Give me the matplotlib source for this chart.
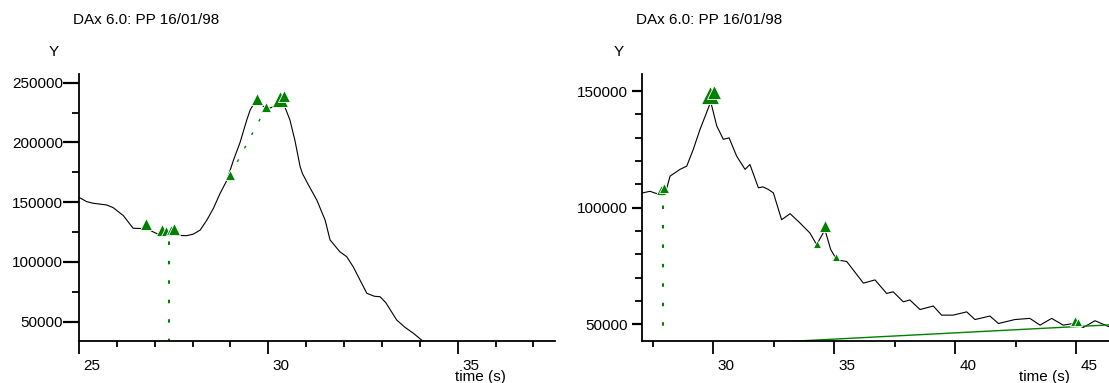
import numpy as np
import matplotlib
import matplotlib.pyplot as plt
from matplotlib.ticker import MultipleLocator, FuncFormatter
from matplotlib.transforms import ScaledTranslation

matplotlib.rcParams['font.family'] = ['Liberation Sans', 'DejaVu Sans']
matplotlib.rcParams['lines.scale_dashes'] = False

GREEN = '#008000'
TITLE = 'DAx 6.0: PP 16/01/98'

# ---- left trace (time s, Y) ----
t_left = [25.0, 25.2, 25.38, 25.73, 25.9, 26.17, 26.43, 26.79, 27.0, 27.14, 27.5, 27.84,
          28.02, 28.2, 28.37, 28.55, 28.72, 28.9, 29.08, 29.25, 29.43, 29.52, 29.6, 29.74,
          29.82, 29.96, 30.09, 30.31, 30.44, 30.57, 30.7, 30.84, 30.9, 31.05, 31.28, 31.5,
          31.63, 31.89, 32.07, 32.24, 32.6, 32.8, 32.95, 33.1, 33.39, 33.6, 33.83, 34.08]
y_left = [154100, 150500, 149100, 147700, 145500, 138800, 128200, 127900, 124500, 122600, 122300, 122000,
          123300, 126700, 134700, 144900, 157000, 168000, 185300, 199700, 218800, 227200, 231600, 232200,
          231600, 228000, 229400, 231000, 229400, 218800, 202000, 179700, 174000, 165000, 151800, 135000,
          118400, 108500, 104400, 96000, 73800, 71300, 70900, 66000, 51400, 45500, 40300, 33800]

# peak markers on left trace
mk_left_t = [26.76, 27.18, 27.3, 27.42, 27.52, 28.99, 29.69, 29.93, 30.3, 30.42]
mk_left_y = [131500, 127000, 126000, 126500, 127500, 172500, 236500, 229500, 236500, 238500]
mk_left_s = [9, 8, 7, 7, 8, 7, 9, 7, 12, 9]

# baseline drop line and tangent on left
drop_left_t = 27.37
drop_left_y = 122300
tan_left_t = [28.99, 29.93]
tan_left_y = [172500, 228500]

# ---- right trace ----
t_right = [27.07, 27.38, 27.6, 27.79, 27.93, 28.05, 28.21, 28.62, 28.9, 29.17, 29.45, 29.72, 29.89,
           30.14, 30.41, 30.65, 30.96, 31.31, 31.51, 31.86, 32.05, 32.27, 32.48, 32.82, 33.17,
           33.58, 33.99, 34.27, 34.61, 34.85, 35.1, 35.51, 35.8, 36.06, 36.2, 36.68, 37.16, 37.43,
           37.85, 38.12, 38.54, 39.09, 39.43, 39.91, 40.47, 40.81, 41.43, 41.78, 42.46, 43.08,
           43.5, 43.98, 44.46, 44.87, 45.29, 45.77, 46.35]
y_right = [106300, 107000, 106200, 105600, 105200, 107500, 113500, 116400, 117800, 125000, 133600, 140800, 145400,
           135000, 129300, 129900, 122100, 116400, 118500, 108500, 108900, 107800, 106300, 94800, 97400,
           93400, 89100, 84100, 90500, 82000, 77600, 76900, 73000, 69500, 67600, 69000, 63200, 63900,
           59600, 60400, 56300, 57800, 53900, 53900, 55300, 52000, 53500, 50300, 52000, 52500,
           49600, 52500, 49600, 50300, 48600, 51500, 48900]

mk_right_t = [27.85, 27.97, 29.88, 30.02, 34.3, 34.62, 35.05, 44.95, 45.07]
mk_right_y = [107500, 108500, 148500, 149500, 84500, 92000, 79000, 51500, 50800]
mk_right_s = [7, 7, 13, 10, 6, 9, 6, 7, 6]

drop_right_t = 27.9
drop_right_y = 105200
base_right_t = [27.9, 46.35]
base_right_y = [39800, 49700]

W, H = 1109, 383
fig = plt.figure(figsize=(W / 100, H / 100), dpi=100)

def px(x0, y0, x1, y1):
    return [x0 / W, 1 - y1 / H, (x1 - x0) / W, (y1 - y0) / H]

axL = fig.add_axes(px(79, 74, 555, 341))
axR = fig.add_axes(px(642, 74, 1109, 341))

def style(ax, xmaj, xmin, ymaj, ymin, ylen, ypad):
    for s in ['top', 'right']:
        ax.spines[s].set_visible(False)
    for s in ['left', 'bottom']:
        ax.spines[s].set_linewidth(1.3)
    ax.xaxis.set_major_locator(MultipleLocator(xmaj))
    ax.xaxis.set_minor_locator(MultipleLocator(xmin))
    ax.yaxis.set_major_locator(MultipleLocator(ymaj))
    ax.yaxis.set_minor_locator(MultipleLocator(ymin))
    ax.yaxis.set_major_formatter(FuncFormatter(lambda v, p: f'{int(v)}'))
    ax.tick_params(axis='x', which='major', length=9, width=1.3, pad=4, labelsize=11)
    ax.tick_params(axis='x', which='minor', length=4.5, width=1.3)
    ax.tick_params(axis='y', which='major', length=ylen, width=1.6, pad=ypad, labelsize=11)
    ax.tick_params(axis='y', which='minor', length=5, width=1.3)
    off = ScaledTranslation(0.13, 0, fig.dpi_scale_trans)
    for lab in ax.get_xticklabels():
        lab.set_transform(lab.get_transform() + off)

# left panel
axL.plot(t_left, y_left, color='black', lw=0.8)
axL.plot([drop_left_t, drop_left_t], [0, drop_left_y], color=GREEN, lw=1.5, ls=(0, (2.5, 11.5)))
axL.plot(tan_left_t, tan_left_y, color=GREEN, lw=1.0, ls=(0, (2, 9)))
for t, y, s in zip(mk_left_t, mk_left_y, mk_left_s):
    axL.plot(t, y, marker='^', ms=s, color=GREEN, mec='white', mew=0.6, ls='none')
axL.set_xlim(25, 37.57)
axL.set_ylim(33850, 257300)
style(axL, 5, 1, 50000, 25000, 11.5, 0)

# right panel
axR.plot(t_right, y_right, color='black', lw=0.8)
axR.plot(base_right_t, base_right_y, color=GREEN, lw=1.0)
axR.plot([drop_right_t, drop_right_t], [0, drop_right_y], color=GREEN, lw=1.5, ls=(0, (2.5, 11.5)))
for t, y, s in zip(mk_right_t, mk_right_y, mk_right_s):
    axR.plot(t, y, marker='^', ms=s, color=GREEN, mec='white', mew=0.6, ls='none')
axR.set_xlim(27.05, 46.35)
axR.set_ylim(42800, 157300)
style(axR, 5, 2.5, 50000, 10000, 7, 3)

# texts
fig.text(73 / W, 1 - 20 / H, TITLE, fontsize=11, ha='left', va='center')
fig.text(636 / W, 1 - 20 / H, TITLE, fontsize=11, ha='left', va='center')
fig.text(54 / W, 1 - 52 / H, 'Y', fontsize=11, ha='center', va='center')
fig.text(619 / W, 1 - 52 / H, 'Y', fontsize=11, ha='center', va='center')
fig.text(480 / W, 1 - 377 / H, 'time (s)', fontsize=11, ha='center', va='center')
fig.text(1044 / W, 1 - 377 / H, 'time (s)', fontsize=11, ha='center', va='center')

fig.savefig('out.png', dpi=100, facecolor='white')
